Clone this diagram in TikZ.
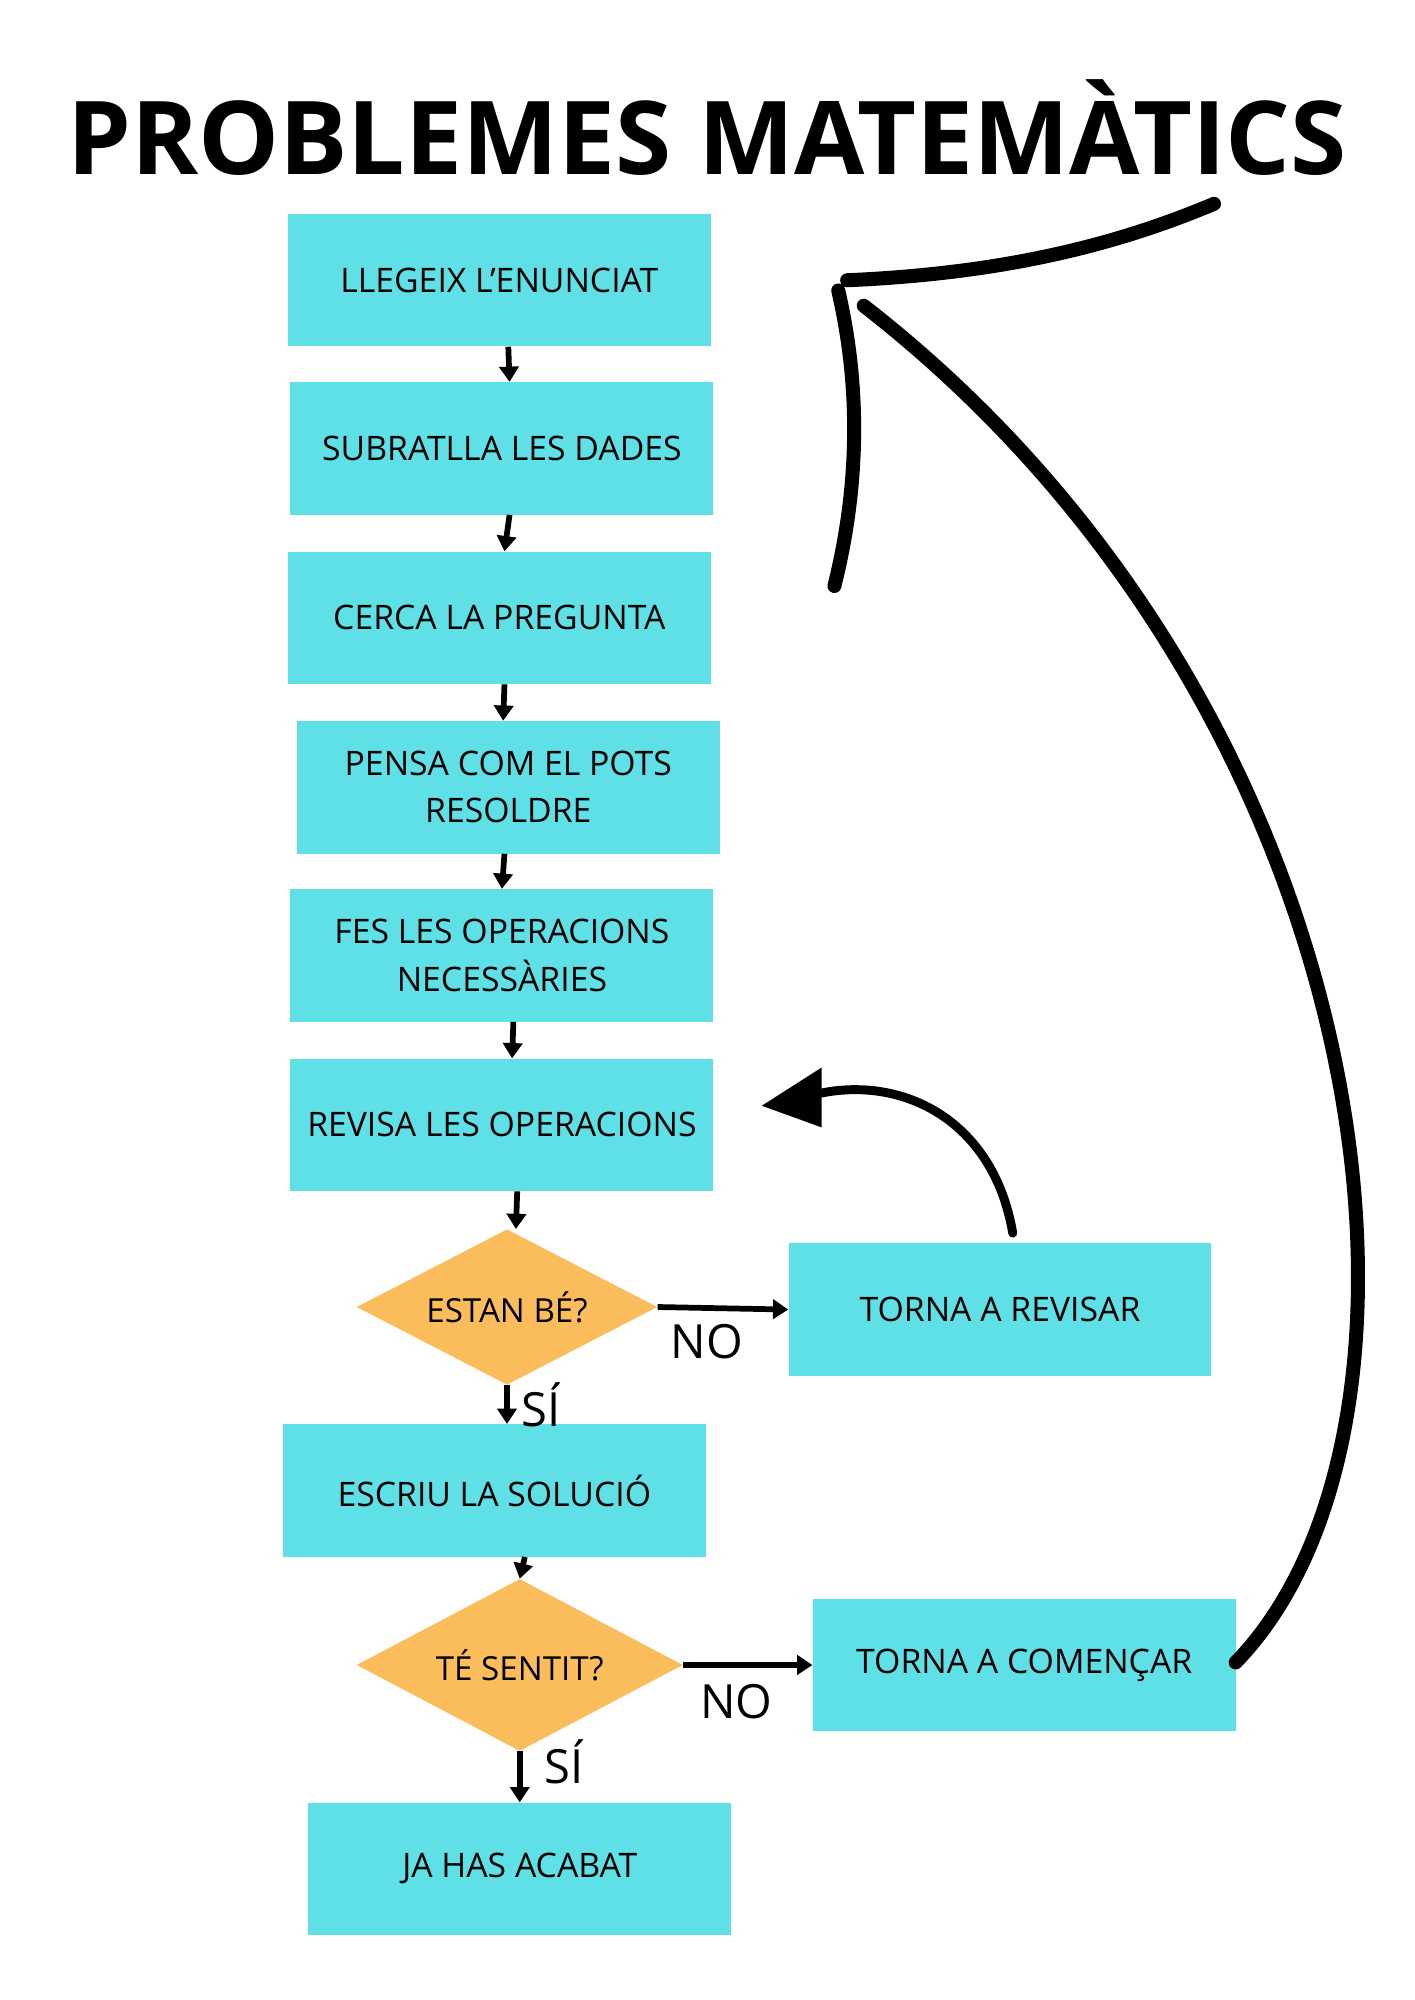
\documentclass[tikz,border=0pt]{standalone}
\usepackage{fontspec}
\setmainfont{Open Sans}
\usetikzlibrary{shapes.geometric,arrows.meta}
\definecolor{cy}{HTML}{5EE0E6}
\definecolor{or}{HTML}{FBBD5C}
\begin{document}
\begin{tikzpicture}[x=1pt,y=-1pt,
 box/.style={fill=cy,minimum width=332pt,minimum height=104pt,align=center,font=\fontsize{26.5}{37}\selectfont,inner sep=0pt},
 dia/.style={diamond,fill=or,aspect=1.9,inner sep=0pt,font=\fontsize{26}{28}\selectfont},
 ar/.style={line width=4.5pt,-{Triangle[length=12pt,width=15pt]}},
 lab/.style={font=\fontsize{37}{40}\selectfont}]
\useasboundingbox (0,0) rectangle (1110,1570);
\node[font=\bfseries\fontsize{80}{86}\selectfont] (t) at (555,100) {PROBLEMES MATEMÀTICS};
\node[box] (b1) at (392,220) {LLEGEIX L’ENUNCIAT};
\node[box] (b2) at (394,352) {SUBRATLLA LES DADES};
\node[box] (b3) at (392,485) {CERCA LA PREGUNTA};
\node[box] (b4) at (399,618) {PENSA COM EL POTS\\RESOLDRE};
\node[box] (b5) at (394,750) {FES LES OPERACIONS\\NECESSÀRIES};
\node[box] (b6) at (394,883) {REVISA LES OPERACIONS};
\node[dia,minimum width=236pt,minimum height=122pt] (d1) at (398,1026) {ESTAN BÉ?};
\node[box] (r) at (785,1028) {TORNA A REVISAR};
\node[box] (b7) at (388,1170) {ESCRIU LA SOLUCIÓ};
\node[dia,minimum width=256pt,minimum height=135pt] (d2) at (408,1307) {TÉ SENTIT?};
\node[box] (c) at (804,1307) {TORNA A COMENÇAR};
\node[box] (b8) at (408,1467) {JA HAS ACABAT};
\draw[ar] ([xshift=7pt]b1.south) -- ([xshift=6pt]b2.north);
\draw[ar] ([xshift=6pt]b2.south) -- ([xshift=4pt]b3.north);
\draw[ar] ([xshift=4pt]b3.south) -- ([xshift=-4pt]b4.north);
\draw[ar] ([xshift=-3pt]b4.south) -- ([xshift=0pt]b5.north);
\draw[ar] ([xshift=9pt]b5.south) -- ([xshift=8pt]b6.north);
\draw[ar] ([xshift=12pt]b6.south) -- ([xshift=7pt]d1.north);
\draw[ar] (d1.south) -- ([xshift=10pt]b7.north);
\draw[ar] ([xshift=24pt]b7.south) -- ([xshift=0pt]d2.north);
\draw[ar] (d2.south) -- (b8.north);
\draw[ar] (d1.east) -- (r.west);
\draw[ar] (d2.east) -- (c.west);
\node[lab] (n1) at (555,1053) {NO};
\node[lab] (n2) at (578,1336) {NO};
\node[lab] (s1) at (425,1103) {SÍ};
\node[lab] (s2) at (443,1383) {SÍ};
\coordinate (rt) at (795,968);
\coordinate (rh) at (645,858);
\draw[line width=7pt,line cap=round] (rt) .. controls (780,880) and (710,845) .. (rh);
\fill (598,868) -- (645,838) -- (645,885) -- cycle;
\coordinate (ct) at (970,1305);
\coordinate (ch) at (678,240);
\draw[line width=11pt,line cap=round] (ct) .. controls (1150,1120) and (1090,560) .. (ch);
\draw[line width=11pt,line cap=round] (655,460) .. controls (680,360) and (670,280) .. (658,228);
\draw[line width=11pt,line cap=round] (665,220) .. controls (780,215) and (870,195) .. (953,160);
\end{tikzpicture}
\end{document}
